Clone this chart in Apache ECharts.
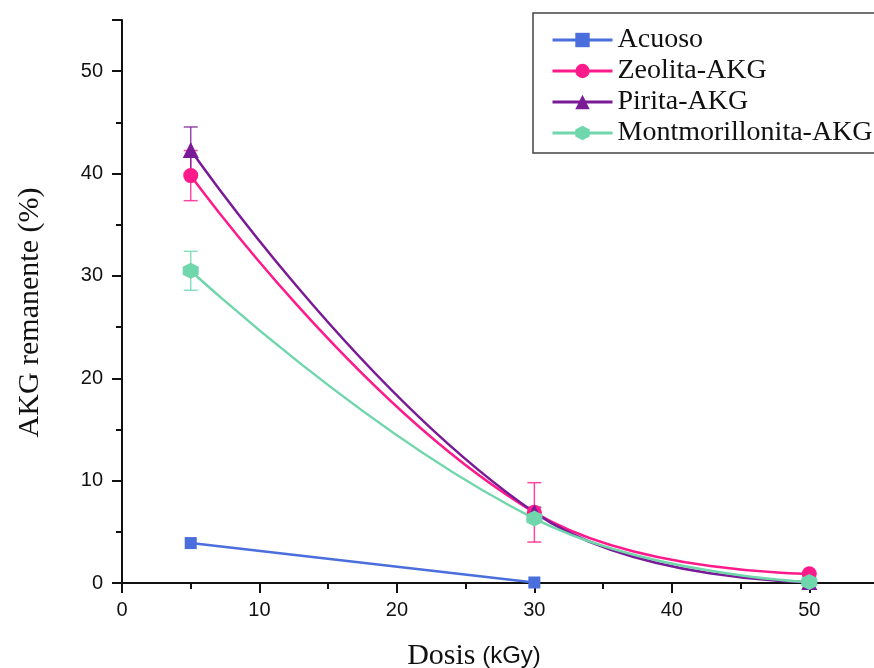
<!DOCTYPE html>
<html>
<head>
<meta charset="utf-8">
<script src="https://cdn.jsdelivr.net/npm/echarts@6/dist/echarts.min.js"></script>
<style>
  html, body { margin: 0; padding: 0; background: #fff; }
  #chart { width: 874px; height: 668px; }
</style>
</head>
<body>
<div id="chart"></div>
<script>
// dose (kGy)
var dosis = [5, 30, 50];

var acuoso = [[5, 3.9], [30, 0.05]];
var zeolita = [39.8, 6.9, 0.9];
var pirita = [42.3, 6.9, 0.1];
var montmorillonita = [30.5, 6.3, 0.1];

// error bar half-widths
var errZeolita = [2.45, 2.9, 0];
var errPirita = [2.25, 0.5, 0];
var errMont = [1.9, 0.3, 0];

var names = ['Acuoso', 'Zeolita-AKG', 'Pirita-AKG', 'Montmorillonita-AKG'];
var colors = ['#4a6fdc', '#ff1a8c', '#7a1a96', '#70d6ab'];

var hexagon = 'path://M50,0 L93,25 L93,75 L50,100 L7,75 L7,25 Z';

function pairs(ys) {
  return dosis.map(function (x, i) { return [x, ys[i]]; });
}

function errData(ys, errs) {
  return dosis.map(function (x, i) { return [x, ys[i] - errs[i], ys[i] + errs[i]]; });
}

function errSeries(ys, errs, color) {
  return {
    type: 'custom',
    data: errData(ys, errs),
    silent: true,
    z: 1,
    renderItem: function (params, api) {
      var lo = api.coord([api.value(0), api.value(1)]);
      var hi = api.coord([api.value(0), api.value(2)]);
      var w = 7;
      var style = { stroke: color, lineWidth: 1.5, opacity: 0.8 };
      return {
        type: 'group',
        children: [
          { type: 'line', shape: { x1: lo[0], y1: lo[1], x2: hi[0], y2: hi[1] }, style: style },
          { type: 'line', shape: { x1: lo[0] - w, y1: lo[1], x2: lo[0] + w, y2: lo[1] }, style: style },
          { type: 'line', shape: { x1: hi[0] - w, y1: hi[1], x2: hi[0] + w, y2: hi[1] }, style: style }
        ]
      };
    }
  };
}

function lineSeries(name, data, color, symbol, size) {
  return {
    name: name,
    type: 'line',
    data: data,
    smooth: 0.45,
    symbol: symbol,
    symbolSize: size,
    z: 3,
    lineStyle: { color: color, width: 2.5 },
    itemStyle: { color: color }
  };
}

var chart = echarts.init(document.getElementById('chart'));

var axisCommon = {
  type: 'value',
  min: 0,
  max: 55,
  interval: 10,
  axisLine: { show: true, onZero: false, lineStyle: { color: '#111', width: 2 } },
  axisTick: { show: true, inside: false, length: 10, lineStyle: { color: '#111', width: 2 } },
  minorTick: { show: true, splitNumber: 2, length: 6, lineStyle: { color: '#111', width: 2 } },
  splitLine: { show: false },
  axisLabel: { color: '#111', fontFamily: 'Liberation Sans', fontSize: 20, showMaxLabel: false }
};

chart.setOption({
  animation: false,
  backgroundColor: '#fff',
  color: colors,
  grid: { left: 122, top: 20, width: 756, height: 563, outerBoundsMode: 'none', containLabel: false },
  legend: {
    data: names,
    orient: 'vertical',
    left: 533,
    top: 13,
    itemWidth: 60,
    itemHeight: 18,
    itemGap: 3,
    padding: [13, 40, 6, 18],
    borderColor: '#444',
    borderWidth: 1.5,
    lineStyle: { width: 3 },
    textStyle: { color: '#111', fontFamily: 'Liberation Serif', fontSize: 28 }
  },
  xAxis: Object.assign({}, axisCommon, {
    name: '{a|Dosis}  {b|(kGy)}',
    nameLocation: 'middle',
    nameGap: 58,
    nameTextStyle: {
      padding: [0, 52, 0, 0],
      rich: {
        a: { fontFamily: 'Liberation Serif', fontSize: 30, color: '#111' },
        b: { fontFamily: 'Liberation Sans', fontSize: 24, color: '#111' }
      }
    },
    axisLabel: Object.assign({}, axisCommon.axisLabel, { margin: 17 })
  }),
  yAxis: Object.assign({}, axisCommon, {
    name: 'AKG remanente (%)',
    nameLocation: 'middle',
    nameGap: 77,
    nameTextStyle: { fontFamily: 'Liberation Serif', fontSize: 30, color: '#111', padding: [0, 22, 0, 0] },
    axisLabel: Object.assign({}, axisCommon.axisLabel, { margin: 19 })
  }),
  series: [
    lineSeries(names[0], acuoso, colors[0], 'rect', 12),
    lineSeries(names[1], pairs(zeolita), colors[1], 'circle', 15),
    lineSeries(names[2], pairs(pirita), colors[2], 'triangle', 16),
    lineSeries(names[3], pairs(montmorillonita), colors[3], hexagon, 16),
    errSeries(zeolita, errZeolita, colors[1]),
    errSeries(pirita, errPirita, colors[2]),
    errSeries(montmorillonita, errMont, colors[3])
  ]
});
</script>
</body>
</html>
